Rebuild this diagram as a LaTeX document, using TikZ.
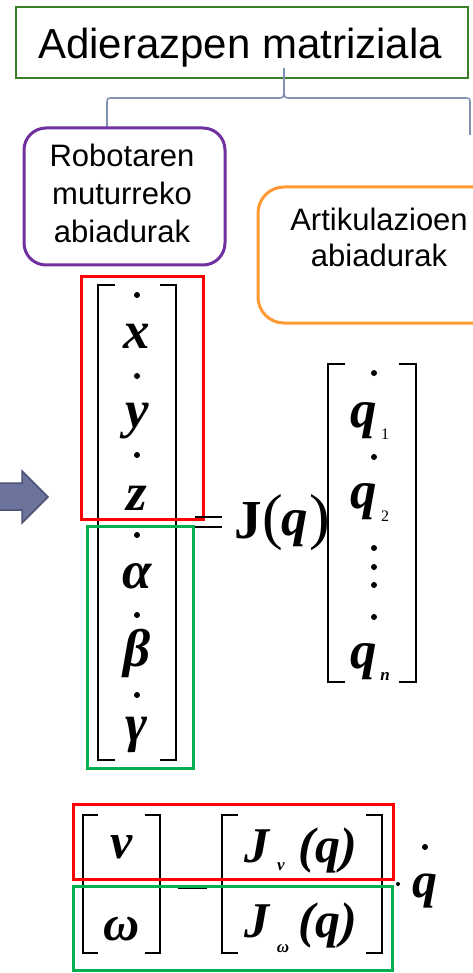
\documentclass[tikz,border=0pt]{standalone}
\usepackage{fontspec}
\setmainfont{Liberation Sans}
\newfontfamily\tms{Liberation Serif}
\definecolor{titlegreen}{RGB}{56,128,40}
\definecolor{bracecol}{RGB}{128,144,180}
\definecolor{purp}{RGB}{112,48,160}
\definecolor{orng}{RGB}{255,153,51}
\definecolor{redb}{RGB}{255,0,0}
\definecolor{greenb}{RGB}{0,176,80}
\definecolor{arrfill}{RGB}{108,116,158}
\definecolor{arrdraw}{RGB}{76,82,118}
\begin{document}
\begin{tikzpicture}[x=1pt,y=-1pt,
  lbl/.style={font=\fontsize{31}{36}\selectfont, inner sep=0pt, anchor=base},
  ttl/.style={font=\fontsize{42}{48}\selectfont, inner sep=0pt, anchor=base},
  mth/.style={font=\tms\bfseries\itshape\fontsize{53}{53}\selectfont, inner sep=0pt, anchor=base},
  mthb/.style={font=\tms\bfseries\itshape\fontsize{50}{50}\selectfont, inner sep=0pt, anchor=base},
  upj/.style={font=\tms\bfseries\fontsize{55}{55}\selectfont, inner sep=0pt, anchor=base},
  bigpar/.style={font=\tms\fontsize{62}{62}\selectfont, inner sep=0pt, anchor=base},
  subr/.style={font=\tms\fontsize{16}{16}\selectfont, inner sep=0pt, anchor=base},
  subi/.style={font=\tms\bfseries\itshape\fontsize{17}{17}\selectfont, inner sep=0pt, anchor=base},
  brk/.style={line width=2.2pt},
  eqline/.style={line width=2.5pt},
  dotc/.style={fill=black},
  framebox/.style={draw, line width=3pt, inner sep=0pt},
  roundbox/.style={draw, line width=3pt, rounded corners=22pt, inner sep=0pt}
]
\useasboundingbox (0,0) rectangle (473,973);
\clip (0,0) rectangle (473,973);

% title
\node[draw=titlegreen, line width=2pt, minimum width=452pt, minimum height=71pt, inner sep=0pt] (title) at (242,42.5) {};
\node[ttl] (titletext) at (240,59) {Adierazpen matriziala};

% brace
\draw[bracecol, line width=1.6pt] (107,127) -- (107,104) .. controls (107,98) .. (113,98) -- (277,98) .. controls (284,98) .. (284,88) -- (284,68);
\draw[bracecol, line width=1.6pt] (284,88) .. controls (284,98) .. (291,98) -- (464,98) .. controls (470,98) .. (470,104) -- (470,135);

% purple box
\node[roundbox, draw=purp, minimum width=201pt, minimum height=137pt] (robot) at (124.5,196.5) {};
\node[lbl] (r1) at (122,167) {Robotaren};
\node[lbl] (r2) at (122,205) {muturreko};
\node[lbl] (r3) at (122,243) {abiadurak};

% orange box
\node[roundbox, draw=orng, rounded corners=26pt, minimum width=250pt, minimum height=136pt] (artik) at (383,255) {};
\node[lbl] (a1) at (379,231) {Artikulazioen};
\node[lbl] (a2) at (379,266) {abiadurak};

% arrow
\draw[fill=arrfill, draw=arrdraw, line width=1.5pt] (-5,483) -- (22,483) -- (22,471) -- (48,497) -- (22,523) -- (22,510) -- (-5,510) -- cycle;

% left matrix brackets
\draw[brk] (115,285) -| (98,760) -- (115,760);
\draw[brk] (160,285) -| (176,760) -- (160,760);

% left matrix entries
\fill[dotc] (137,295) circle (3);
\node[mth] (ex) at (137,348) {x};
\fill[dotc] (137,376) circle (3);
\node[mth] (ey) at (137,427) {y};
\fill[dotc] (137,455) circle (3);
\node[mth] (ez) at (137,510) {z};
\fill[dotc] (137,535) circle (3);
\node[mth] (ealpha) at (137,588) {α};
\fill[dotc] (137,615) circle (3);
\node[mth] (ebeta) at (137,666) {β};
\fill[dotc] (137,695) circle (3);
\node[mth] (egamma) at (137,741) {γ};

% boxes
\node[framebox, draw=redb, minimum width=122pt, minimum height=242pt] (linbox) at (142,398) {};
\node[framebox, draw=greenb, minimum width=106pt, minimum height=242pt] (angbox) at (140,647) {};

% equal sign
\draw[eqline] (195,517) -- (222,517);
\draw[eqline] (195,527) -- (222,527);

% J(q)
\node[upj] (Jq) at (248,538) {J};
\node[bigpar] (lp) at (273,537) {(};
\node[mth] (qq) at (295,535) {q};
\node[bigpar] (rp) at (320,537) {)};

% right matrix
\draw[brk] (345,364) -| (328,682) -- (345,682);
\draw[brk] (399,364) -| (416,682) -- (399,682);
\fill[dotc] (374,373) circle (3);
\node[mth] (q1) at (364,427) {q};
\node[subr] (s1) at (385,439) {1};
\fill[dotc] (374,457) circle (3);
\node[mth] (q2) at (364,508) {q};
\node[subr] (s2) at (385,521) {2};
\fill[dotc] (374,548) circle (3);
\fill[dotc] (374,567) circle (3);
\fill[dotc] (374,585) circle (3);
\fill[dotc] (374,617) circle (3);
\node[mth] (qn) at (364,668) {q};
\node[subi] (sn) at (385,680) {n};

% bottom equation
\draw[brk] (98,815) -| (83,953) -- (98,953);
\draw[brk] (145,815) -| (160,953) -- (145,953);
\node[mthb] (vv) at (122,858) {v};
\node[mthb] (ww) at (122,940) {ω};
\draw[eqline] (178,888) -- (207,888);
\draw[brk] (238,815) -| (222,953) -- (238,953);
\draw[brk] (366,815) -| (382,953) -- (366,953);
\node[mthb] (Jv) at (257,862) {J};
\node[subi] (sv) at (281,870) {v};
\node[mthb] (qv) at (328,862) {(q)};
\node[mthb] (Jw) at (257,937) {J};
\node[subi] (sw) at (283,952) {ω};
\node[mthb] (qw) at (328,937) {(q)};
\node[framebox, draw=redb, minimum width=320pt, minimum height=75pt] (vbox) at (233,841.5) {};
\node[framebox, draw=greenb, minimum width=319pt, minimum height=84pt] (wbox) at (232.5,928) {};
\fill[dotc] (398,884) circle (2);
\fill[dotc] (425,847) circle (3);
\node[mthb] (qdot) at (425,897) {q};
\end{tikzpicture}
\end{document}
